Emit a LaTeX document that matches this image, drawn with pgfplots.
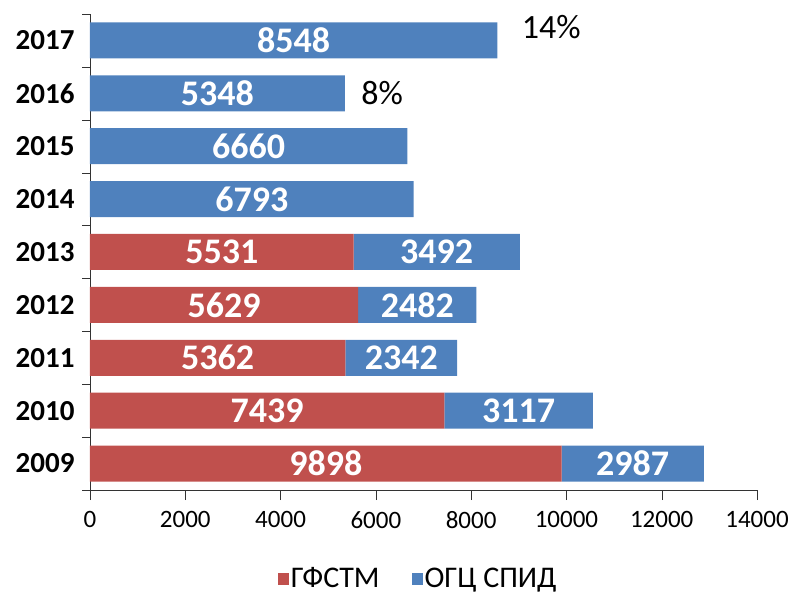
\documentclass[border=0pt]{standalone}
\usepackage{pgfplots}
\pgfplotsset{compat=1.18}
\usepackage{pgfplotstable}
\usepackage{fontspec}
\setmainfont{Carlito}

\definecolor{cred}{HTML}{C0504D}
\definecolor{cblue}{HTML}{4F81BD}

% y = row position (2009 at bottom), red = ГФСТМ, blue = ОГЦ СПИД
\pgfplotstableread{
y year red blue
0 2009 9898 2987
1 2010 7439 3117
2 2011 5362 2342
3 2012 5629 2482
4 2013 5531 3492
5 2014 0 6793
6 2015 0 6660
7 2016 0 5348
8 2017 0 8548
}\data

% value label in each stacked segment (empty for zero)
\pgfplotsset{
  seglabel/.style={
    visualization depends on={rawx \as \rawval},
    nodes near coords={\ifdim\rawval pt>0pt \pgfmathprintnumber[assume math mode=true,1000 sep={},fixed,precision=0]{\rawval}\fi},
    every node near coord/.append style={anchor=center, text=white,
      font=\bfseries\fontsize{36}{38}\selectfont},
  },
}

\begin{document}
\begin{tikzpicture}
  \begin{axis}[
      scale only axis,
      width=667pt, height=476pt,
      xbar stacked,
      bar width=36pt,
      xmin=0, xmax=14000,
      ymin=-0.5, ymax=8.5,
      xtick={0,2000,...,14000},
      scaled x ticks=false,
      ytick={0,...,8},
      yticklabels from table={\data}{year},
      minor ytick={-0.5,0.5,...,8.5},
      axis x line=bottom,
      axis y line=left,
      axis line style={-, black!80},
      tick align=outside,
      major tick length=10pt,
      minor tick length=8pt,
      every major y tick/.style={draw=none},
      every minor y tick/.style={black!80},
      every major x tick/.style={black!80},
      tick label style={font=\fontsize{25}{28}\selectfont},
      xticklabel style={/pgf/number format/1000 sep={}, /pgf/number format/assume math mode=true, yshift=-8pt},
      yticklabel style={font=\bfseries\fontsize{29}{32}\selectfont, xshift=-2pt},
      legend style={at={(0.492,-0.186)}, anchor=center, draw=none,
        font=\fontsize{30}{32}\selectfont, legend columns=2,
        /tikz/every even column/.append style={column sep=30pt}},
      clip=false,
    ]
    \addplot[fill=cred, draw=none, seglabel,
      legend image code/.code={\fill[cred] (0pt,-6pt) rectangle (11pt,6pt);}]
      table[x=red, y=y] {\data};
    \addlegendentry{ГФСТМ}
    \addplot[fill=cblue, draw=none, seglabel,
      legend image code/.code={\fill[cblue] (0pt,-6pt) rectangle (11pt,6pt);}]
      table[x=blue, y=y] {\data};
    \addlegendentry{ОГЦ СПИД}

    \node[anchor=west, font=\fontsize{34}{38}\selectfont, xshift=21pt, yshift=13pt]
      at (axis cs:8548,8) {14\%};
    \node[anchor=west, font=\fontsize{34}{38}\selectfont, xshift=13pt]
      at (axis cs:5348,7) {8\%};
  \end{axis}
  \pgfresetboundingbox
  \path (-90pt,-104pt) rectangle (702pt,490pt);
\end{tikzpicture}
\end{document}
